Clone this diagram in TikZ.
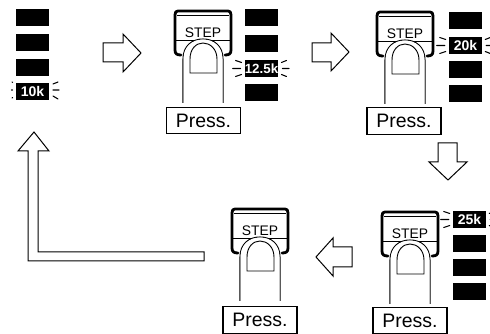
\documentclass[tikz,border=0pt]{standalone}
\usepackage{fontspec}
\setmainfont{Liberation Sans}
\tikzset{
  bar/.style={fill=black,inner sep=0pt,minimum width=24.75pt,minimum height=12.75pt,text=white,font=\fontsize{10.5}{11}\selectfont\bfseries},
  pressbox/.style={draw=black,line width=0.8pt,fill=white,inner sep=0pt,minimum width=55.5pt,minimum height=20pt,font=\fontsize{14.6}{16}\selectfont},
  steplabel/.style={inner sep=0pt,font=\fontsize{10.4}{12}\selectfont},
  bigarrow/.style={draw=black,line width=0.75pt,fill=white,line join=miter},
  glowtick/.style={line width=0.8pt,line cap=round},
  btnrim/.style={line width=2.1pt,line join=round,line cap=round},
  btnthin/.style={line width=0.6pt},
  fingerline/.style={draw=black,line width=0.8pt,fill=white}
}
% button with finger; #1,#2 = top-left corner, #3 = node name
\newcommand{\stepbtn}[3]{%
  \begin{scope}[shift={(#1,#2)}]
    \draw[btnrim] (6,44) .. controls (2,44) and (0,43) .. (0,39) -- (0,4) .. controls (0,1) and (1,0) .. (3,0) -- (53,0) .. controls (55,0) and (56,1) .. (56,4) -- (56,39) .. controls (56,43) and (54,44) .. (50,44);
    \draw[btnthin] (2,4) -- (54,4) (1,29) -- (55,29);
    \node[steplabel] (#3) at (28,22) {STEP};
    \draw[fingerline] (8,92) -- (8,48) .. controls (8,35) and (17,28) .. (28,28) .. controls (39,28) and (48,35) .. (48,48) -- (48,92);
    \fill[white] (8.5,92) -- (8.5,48) .. controls (8.5,36) and (17,28.5) .. (28,28.5) .. controls (39,28.5) and (47.5,36) .. (47.5,48) -- (47.5,92) -- cycle;
    \draw[btnthin,line width=0.7pt] (15,62) -- (15,48) .. controls (15,38) and (21,32) .. (28,32) .. controls (35,32) and (42,38) .. (42,48) -- (42,62) -- cycle;
  \end{scope}}
% glow ticks around a lit bar
\newcommand{\glowticks}[1]{%
  \draw[glowtick] ([shift={(-9,-8)}]#1.center -| #1.west) -- ([shift={(-3,-6)}]#1.center -| #1.west)
    ([xshift=-9]#1.west) -- ([xshift=-3]#1.west)
    ([shift={(-9,8)}]#1.center -| #1.west) -- ([shift={(-3,6)}]#1.center -| #1.west)
    ([shift={(3,-6)}]#1.center -| #1.east) -- ([shift={(8,-8)}]#1.center -| #1.east)
    ([xshift=3]#1.east) -- ([xshift=8]#1.east)
    ([shift={(3,6)}]#1.center -| #1.east) -- ([shift={(8,8)}]#1.center -| #1.east);}
\begin{document}
\begin{tikzpicture}[x=0.75pt,y=-0.75pt]
\useasboundingbox (0,0) rectangle (490,334);
\fill[white] (0,0) rectangle (490,334);
\begin{scope}
\clip (0,0) rectangle (490,334);

% panel 1
\node[bar] (a1) at (32.5,17.5) {};
\node[bar] (a2) at (32.5,42.5) {};
\node[bar] (a3) at (32.5,67.5) {};
\node[bar] (a4) at (32.5,91.5) {10k};
\draw[glowtick] (12,82) -- (12.6,82.4) (11.5,90) -- (12.5,90) (12,98) -- (12.6,97.6)
  (53,84) -- (58,82) (53,90) -- (59,90) (53,96) -- (58,99);

% panel 2
\stepbtn{175}{11}{s1}
\node[bar] (b1) at (261.5,18) {};
\node[bar] (b2) at (261.5,43.5) {};
\node[bar,font=\fontsize{10}{11}\selectfont\bfseries] (b3) at (261.5,68.5) {12.5k};
\node[bar] (b4) at (261.5,92.5) {};
\glowticks{b3}
\node[pressbox] (p1) at (203.5,120.5) {Press.};

% panel 3
\stepbtn{377}{12}{s2}
\node[bar] (c1) at (465.5,21) {};
\node[bar] (c2) at (465.5,45.5) {20k};
\node[bar] (c3) at (465.5,70) {};
\node[bar] (c4) at (465.5,94) {};
\glowticks{c2}
\node[pressbox] (p2) at (404,121) {Press.};

% panel 4
\stepbtn{382}{212}{s3}
\node[bar] (d1) at (469.5,219.5) {25k};
\node[bar] (d2) at (469.5,243.5) {};
\node[bar] (d3) at (469.5,267.5) {};
\node[bar] (d4) at (469.5,292) {};
\glowticks{d1}
\node[pressbox] (p3) at (410,320.5) {Press.};

% panel 5
\stepbtn{232}{209}{s4}
\node[pressbox] (p4) at (260,320) {Press.};

% hollow arrows
\draw[bigarrow] (103,43) -- (123,43) -- (123,34) -- (141,53) -- (123,72) -- (123,62) -- (103,62) -- cycle;
\draw[bigarrow] (312,43) -- (331,43) -- (331,33) -- (349,52) -- (331,71) -- (331,62) -- (312,62) -- cycle;
\draw[bigarrow] (438,143) -- (457,143) -- (457,162) -- (467,162) -- (448,180) -- (429,162) -- (438,162) -- cycle;
\draw[bigarrow] (352,247) -- (333,247) -- (333,238) -- (316,257) -- (333,276) -- (333,267) -- (352,267) -- cycle;
\draw[bigarrow] (204,252) -- (38,252) -- (38,151) -- (49,151) -- (34,132) -- (18,151) -- (28,151) -- (28,261) -- (204,261) -- cycle;
\end{scope}
\end{tikzpicture}
\end{document}
